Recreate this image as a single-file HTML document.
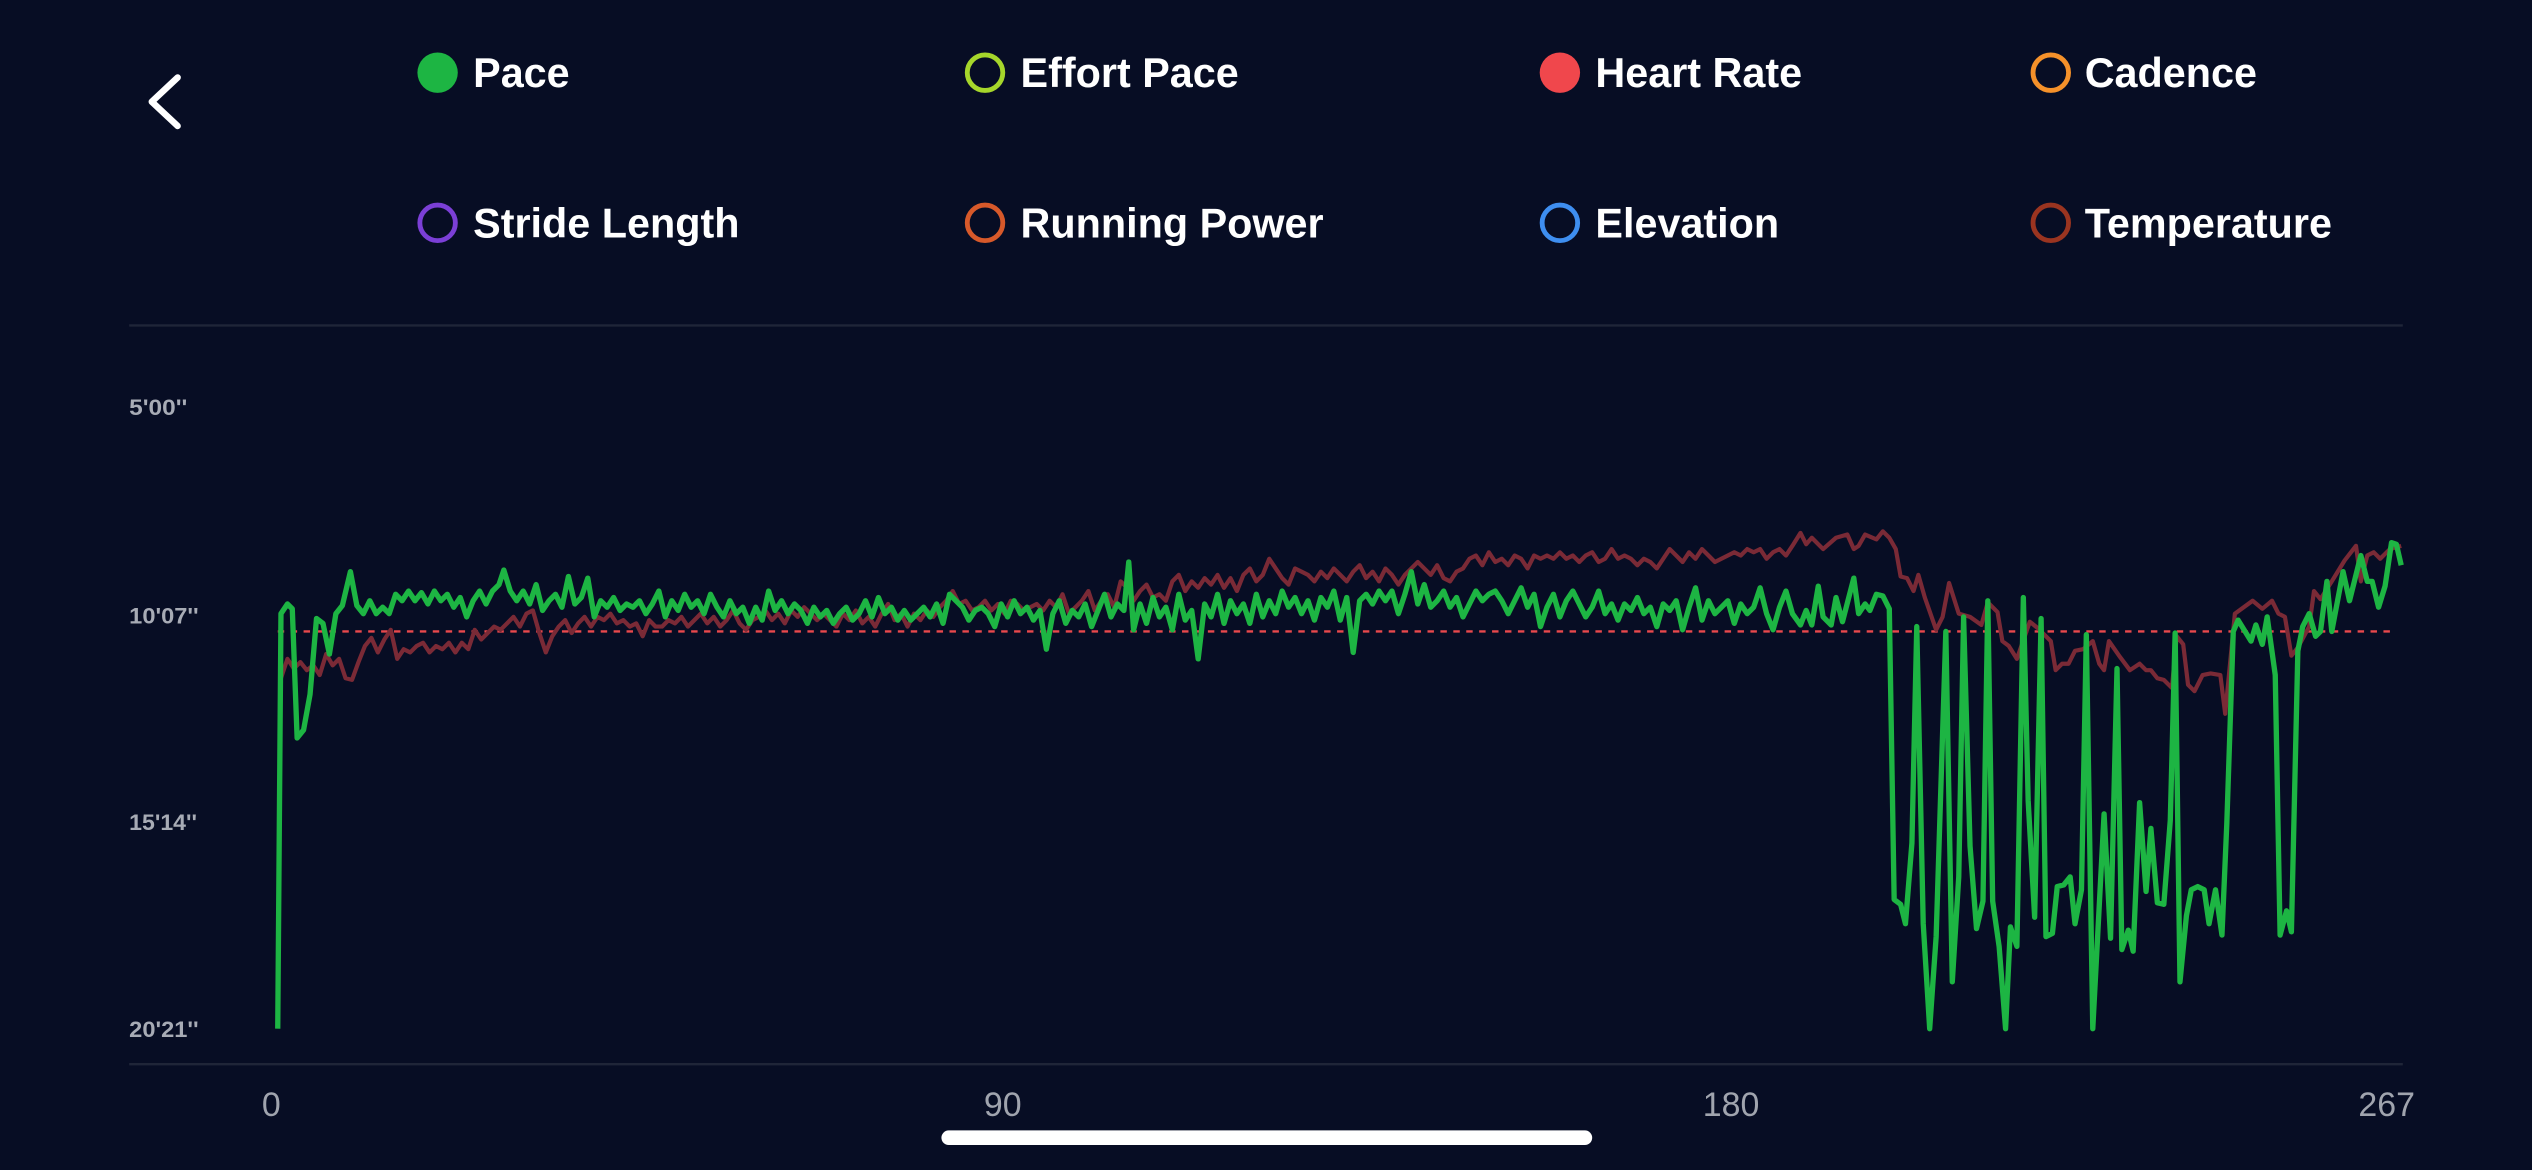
<!DOCTYPE html>
<html><head><meta charset="utf-8"><style>
html,body{margin:0;padding:0;background:#070d24;width:2532px;height:1170px;overflow:hidden}
svg{display:block}
text{font-family:"Liberation Sans",sans-serif}
</style></head><body>
<svg width="2532" height="1170" viewBox="0 0 1568 724.5" preserveAspectRatio="none">
<rect x="0" y="0" width="1568" height="724.5" fill="#070d24"/>
<polyline points="110,48 94,63 110,78" fill="none" stroke="#fff" stroke-width="4" stroke-linecap="round" stroke-linejoin="round"/>
<g font-size="25.6" font-weight="bold" fill="#fff">
<circle cx="271" cy="45" r="12.5" fill="#1db543"/><text x="293" y="54">Pace</text>
<circle cx="610" cy="45" r="11" fill="none" stroke="#a6d62b" stroke-width="3"/><text x="632" y="54">Effort Pace</text>
<circle cx="966" cy="45" r="12.5" fill="#f0474c"/><text x="988" y="54">Heart Rate</text>
<circle cx="1270" cy="45" r="11" fill="none" stroke="#f5912a" stroke-width="3"/><text x="1291" y="54">Cadence</text>
<circle cx="271" cy="138" r="11" fill="none" stroke="#7b3fd6" stroke-width="3"/><text x="293" y="147">Stride Length</text>
<circle cx="610" cy="138" r="11" fill="none" stroke="#d7592a" stroke-width="3"/><text x="632" y="147">Running Power</text>
<circle cx="966" cy="138" r="11" fill="none" stroke="#3e8ef0" stroke-width="3"/><text x="988" y="147">Elevation</text>
<circle cx="1270" cy="138" r="11" fill="none" stroke="#9a3420" stroke-width="3"/><text x="1291" y="147">Temperature</text>
</g>
<line x1="80" y1="201.5" x2="1488" y2="201.5" stroke="#1f2538" stroke-width="1.5"/>
<line x1="80" y1="659" x2="1488" y2="659" stroke="#1f2538" stroke-width="1.5"/>
<g font-size="14" font-weight="bold" fill="#a7abb5">
<text x="80" y="257" textLength="36" lengthAdjust="spacingAndGlyphs">5'00''</text>
<text x="80" y="386" textLength="43" lengthAdjust="spacingAndGlyphs">10'07''</text>
<text x="80" y="514" textLength="42" lengthAdjust="spacingAndGlyphs">15'14''</text>
<text x="80" y="642" textLength="43" lengthAdjust="spacingAndGlyphs">20'21''</text>
</g>
<g font-size="21" fill="#a0a4ae" text-anchor="middle">
<text x="168" y="691">0</text><text x="621" y="691">90</text><text x="1072" y="691">180</text><text x="1478" y="691">267</text>
</g>
<line x1="172" y1="391" x2="1482" y2="391" stroke="#e8484c" stroke-width="1.5" stroke-dasharray="4,4"/>
<polyline fill="none" stroke="#7a2a36" stroke-width="2.6" stroke-linejoin="round" points="174,420 178,408 182,414 186,410 190,415 194,412 198,418 202,405 206,412 210,408 214,420 218,421 222,410 226,400 230,395 234,404 238,396 242,390 246,408 250,402 254,404 258,400 262,398 266,404 270,400 274,402 278,398 282,404 286,398 290,402 294,390 298,396 302,392 306,388 310,390 314,386 318,382 322,388 326,380 330,378 334,392 338,404 342,394 346,388 350,384 354,392 358,386 362,382 366,388 370,382 374,384 378,380 382,386 386,384 390,388 394,386 398,394 402,384 406,388 410,388 414,384 418,386 422,382 426,388 430,384 434,380 438,386 442,382 446,388 450,384 454,378 458,386 462,390 466,384 470,382 474,378 478,384 482,380 486,386 490,378 494,382 498,376 502,380 506,384 510,380 514,384 518,388 522,380 526,384 530,378 534,386 538,382 542,388 546,380 550,374 554,384 558,380 562,388 566,380 570,384 574,378 578,382 582,376 586,372 590,366 594,374 598,372 602,378 606,376 610,372 614,378 618,374 622,380 626,372 630,374 634,378 638,376 642,374 646,378 650,372 654,376 658,368 662,380 666,376 670,372 674,366 678,378 682,372 686,368 690,376 694,360 698,364 702,372 706,366 710,362 714,370 718,368 722,372 726,360 730,356 734,366 738,360 742,364 746,358 750,362 754,356 758,364 762,358 766,366 770,356 774,352 778,360 782,356 786,346 790,352 794,358 798,362 802,352 806,354 810,356 814,360 818,354 822,358 826,352 830,356 834,360 838,354 842,350 846,358 850,354 854,360 858,352 862,356 866,362 870,356 874,352 878,348 882,352 886,356 890,350 894,358 898,360 902,354 906,352 910,346 914,344 918,350 922,342 926,348 930,346 934,350 938,344 942,346 946,352 950,344 954,346 958,344 962,346 966,342 970,346 974,344 978,348 982,344 986,342 990,348 994,346 998,340 1002,346 1006,344 1010,346 1014,350 1018,346 1022,348 1026,352 1030,346 1034,340 1038,344 1042,348 1046,342 1050,346 1054,340 1058,344 1062,348 1066,346 1070,344 1074,342 1078,344 1082,340 1086,342 1090,340 1094,346 1098,342 1102,340 1106,344 1110,338 1115,330 1118.5,337 1122,333 1129,340 1137,333 1144,331 1148,340 1151,338 1155,331 1162,334 1166,329 1170,333 1174,340 1177,357 1181,358 1185,366 1188,356 1192,370 1199,390 1203,382 1207,361 1213,380 1220,382 1227,387 1231,373 1237,379 1240,397 1244,400 1249,408 1257,385 1262,389 1270,397 1273,415 1277,411 1281,411 1285,403 1290,402 1296,397 1300,411 1303,415 1306,397 1313,407 1319,415 1325,411 1329,415 1332,415 1336,420 1340,421 1345,426 1348,394 1352,399 1355,424 1359,428 1364,418 1369,417 1375,418 1378,442 1384,380 1395,372 1401,377 1407,372 1411,380 1415,382 1419,406 1423,401 1430,388 1433,366 1437,371 1444,360 1452,347 1459,338 1462,360 1466,344 1470,342 1474,346 1480,340 1487,338"/>
<polyline fill="none" stroke="#1db543" stroke-width="3.3" stroke-linejoin="round" points="172,637 174,380 178,374 181,377 184,457 188,452 192,430 196,383 200,386 204,405 208,380 212,375 217,354 221,375 225,380 229,372 233,380 237,376 241,380 245,368 249,372 253,366 257,372 261,367 265,374 269,366 273,372 277,368 281,376 285,370 289,382 293,372 297,366 301,374 305,366 309,362 312,353 316,366 320,372 324,366 328,374 332,362 336,378 340,372 344,368 348,376 352,357 356,374 360,370 364,358 368,382 372,372 376,376 380,370 384,378 388,374 392,376 396,372 400,380 404,374 408,366 412,382 416,372 420,378 424,368 428,376 432,372 436,380 440,368 444,376 448,382 452,372 456,380 460,376 464,386 468,376 472,384 476,366 480,378 484,372 488,380 492,374 496,378 500,386 504,376 508,382 512,378 516,386 520,380 524,376 528,384 532,380 536,372 540,382 544,370 548,380 552,376 556,384 560,378 564,384 568,380 572,376 576,382 580,374 584,386 588,368 592,372 596,376 600,384 604,378 608,376 612,380 616,388 620,374 624,382 628,372 632,380 636,376 640,384 644,378 648,402 652,380 656,372 660,386 664,378 668,382 672,374 676,388 680,378 684,368 688,382 692,374 696,378 699,348 702,390 706,374 710,386 714,370 718,382 722,376 726,390 730,368 734,384 738,378 742,408 746,374 750,382 754,368 758,386 762,372 766,380 770,374 774,386 778,368 782,382 786,372 790,380 794,366 798,376 802,370 806,380 810,372 814,384 818,370 822,376 826,366 830,384 834,370 838,404 842,372 846,368 850,374 854,366 858,372 862,366 866,380 870,368 874,354 878,374 882,362 886,376 890,372 894,366 898,376 902,370 906,382 910,374 914,366 918,372 922,368 926,366 930,372 934,380 938,372 942,364 946,376 950,368 954,388 958,376 962,368 966,382 970,372 974,366 978,374 982,382 986,376 990,366 994,380 998,374 1002,384 1006,374 1010,378 1014,370 1018,380 1022,376 1026,388 1030,374 1034,378 1038,372 1042,390 1046,376 1050,364 1054,384 1058,372 1062,380 1066,376 1070,372 1074,386 1078,374 1082,380 1086,376 1090,364 1094,380 1098,390 1102,376 1106,366 1110,380 1115,387 1118.5,378 1122,387 1126,363 1129,382 1134,387 1137,370 1141,385 1148,358 1151,380 1155,374 1158,378 1162,368 1166,369 1170,377 1173,557 1177,560 1180,572 1184,522 1187,388 1191,572 1195,637 1199,580 1205,391 1209,608 1213,543 1216,382 1220,524 1224,575 1228,558 1231,372 1234,558 1238,586 1242,637 1245,574 1249,586 1253,370 1256,496 1260,568 1264,383 1267,580 1271,578 1274,549 1278,548 1282,543 1285,572 1289,551 1292,393 1296,637 1303,504 1307,581 1311,414 1314,588 1318,576 1321,589 1325,497 1329,552 1332,513 1336,559 1340,560 1344,508 1347,392 1350,608 1354,567 1357,551 1361,549 1365,551 1368,572 1372,551 1376,579 1379,510 1383,391 1386,384 1394,397 1397,387 1401,399 1404,382 1409,418 1412,579 1416,564 1419,577 1423,403 1426,388 1430,380 1434,394 1437,391 1441,360 1444,391 1451,354 1455,372 1462,344 1466,360 1469,360 1473,376 1477,363 1481,336 1484,337 1487,350"/>
<rect x="583" y="700" width="403" height="9" rx="4.5" fill="#fff"/>
</svg>
</body></html>
